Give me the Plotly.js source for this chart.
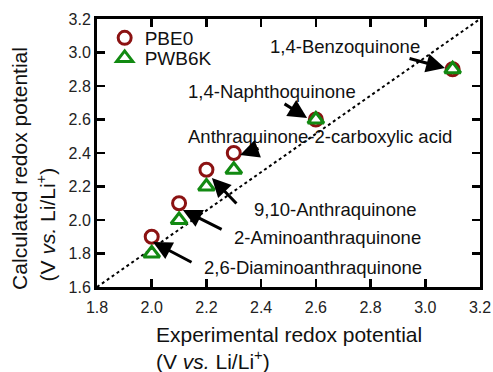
<!DOCTYPE html>
<html>
<head>
<meta charset="utf-8">
<script src="https://cdn.plot.ly/plotly-3.0.1.min.js"></script>
<style>html,body{margin:0;padding:0;background:#fff;}#chart{width:493px;height:372px;}</style>
</head>
<body>
<div id="chart"></div>
<script>
// ---- data ----
const compounds = ["2,6-Diaminoanthraquinone", "2-Aminoanthraquinone", "9,10-Anthraquinone",
                   "Anthraquinone-2-carboxylic acid", "1,4-Naphthoquinone", "1,4-Benzoquinone"];
const experimental = [2.0, 2.1, 2.2, 2.3, 2.6, 3.1];
const pbe0 = [1.9, 2.1, 2.3, 2.4, 2.6, 2.9];
const pwb6k = [1.8, 2.0, 2.2, 2.3, 2.6, 2.9];
const diagX = [1.8, 3.2];
const diagY = [1.6, 3.2];
const tickVals = [1.8, 2.0, 2.2, 2.4, 2.6, 2.8, 3.0, 3.2];
const yTickVals = [1.6, 1.8, 2.0, 2.2, 2.4, 2.6, 2.8, 3.0, 3.2];

// ---- label placement (layout) ----
const labelPos = [ // [x, y] in axis units, for each compound
  [2.590, 1.719], [2.641, 1.893], [2.670, 2.060], [2.615, 2.496], [2.440, 2.770], [2.707, 3.033]
];
const arrowTail = [
  [2.151, 1.743], [2.261, 1.940], [2.315, 2.090], [2.396, 2.430], [2.480, 2.699], [2.937, 2.967]
];
const arrowHead = [
  [2.005, 1.869], [2.114, 2.060], [2.220, 2.251], [2.323, 2.388], [2.568, 2.609], [3.072, 2.907]
];

const font = "Liberation Sans, Arial, sans-serif";
const traces = [
  {x: diagX, y: diagY, mode: "lines", line: {color: "#000", width: 2, dash: "dot"},
   showlegend: false, hoverinfo: "skip"},
  {x: experimental, y: pbe0, mode: "markers", name: "PBE0", legend: "legend",
   marker: {symbol: "circle-open", size: 13, color: "#8b1212", line: {width: 3, color: "#8b1212"}}},
  {x: experimental, y: pwb6k, mode: "markers", name: "PWB6K", legend: "legend2",
   marker: {symbol: "triangle-up-open", size: 14, color: "#128a12", line: {width: 3, color: "#128a12"}}}
];

const annotations = [];
compounds.forEach((c, i) => {
  annotations.push({x: labelPos[i][0], y: labelPos[i][1], xref: "x", yref: "y", text: c,
    showarrow: false, font: {family: font, size: 18.5, color: "#111"}, xanchor: "center", yanchor: "middle"});
  annotations.push({x: arrowHead[i][0], y: arrowHead[i][1], ax: arrowTail[i][0], ay: arrowTail[i][1],
    xref: "x", yref: "y", axref: "x", ayref: "y", text: "", showarrow: true,
    arrowhead: 2, arrowsize: 1.25, arrowwidth: 3, arrowcolor: "#000", standoff: 0, startstandoff: 0});
});
const titleFont = {family: font, size: 21, color: "#111"};
annotations.push({xref: "paper", yref: "paper", x: 0.149, y: -0.179, xanchor: "left", yanchor: "middle",
  showarrow: false, text: "Experimental redox potential", font: titleFont});
annotations.push({xref: "paper", yref: "paper", x: 0.149, y: -0.272, xanchor: "left", yanchor: "middle",
  showarrow: false, text: "(V <i>vs.</i> Li/Li<sup>+</sup>)", font: titleFont});
annotations.push({xref: "paper", yref: "paper", x: -0.201, y: -0.02, xanchor: "center", yanchor: "bottom",
  textangle: -90, showarrow: false, text: "Calculated redox potential", font: titleFont});
annotations.push({xref: "paper", yref: "paper", x: -0.132, y: 0.015, xanchor: "center", yanchor: "bottom",
  textangle: -90, showarrow: false, text: "(V <i>vs.</i> Li/Li<sup>+</sup>)", font: titleFont});

const axisCommon = {
  showgrid: false, zeroline: false, showline: true, linecolor: "#000", linewidth: 3,
  mirror: "ticks", ticks: "inside", ticklen: 8, tickwidth: 2.5, tickcolor: "#000",
  tickfont: {family: font, size: 16, color: "#222"}
};
const legendCommon = {xanchor: "left", yanchor: "top", bgcolor: "rgba(0,0,0,0)",
  font: {family: font, size: 19, color: "#111"}};
const layout = {
  width: 493, height: 372,
  margin: {l: 97, r: 13, t: 19, b: 85},
  paper_bgcolor: "#fff", plot_bgcolor: "#fff",
  xaxis: Object.assign({}, axisCommon, {range: [1.8, 3.2], tickvals: tickVals,
    ticktext: tickVals.map(v => v.toFixed(1)), ticklabelstandoff: 4}),
  yaxis: Object.assign({}, axisCommon, {range: [1.6, 3.2], tickvals: yTickVals,
    ticktext: yTickVals.map(v => v.toFixed(1))}),
  legend: Object.assign({}, legendCommon, {x: 0.02, y: 1.0}),
  legend2: Object.assign({}, legendCommon, {x: 0.02, y: 0.925}),
  annotations: annotations,
  showlegend: true
};
Plotly.newPlot("chart", traces, layout, {staticPlot: true, displayModeBar: false});
</script>
</body>
</html>
